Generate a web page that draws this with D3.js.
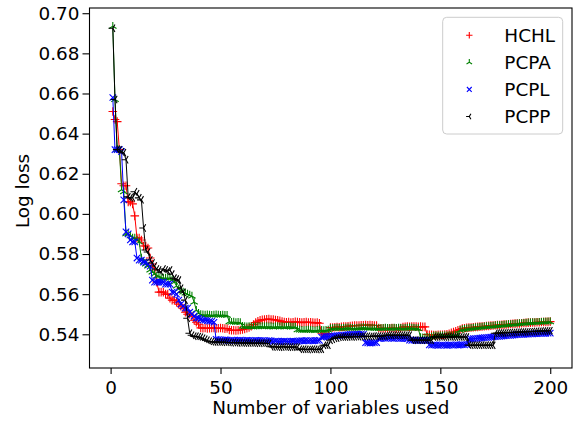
<!DOCTYPE html>
<html><head><meta charset="utf-8">
<script src="https://cdn.jsdelivr.net/npm/d3@7"></script>
<style>body{margin:0;background:#fff}svg{display:block}text{font-family:"DejaVu Sans",sans-serif}</style>
</head><body><svg id="c" width="574" height="421"></svg>
<script>
const seriesNames = ["HCHL","PCPA","PCPL","PCPP"];
const seriesColors = ["#ff0000","#008000","#0000ff","#000000"];
const seriesMarkers = ["plus","tri_up","x","tri_left"];
const xTicks = [0,50,100,150,200];
const yTicks = [0.54,0.56,0.58,0.60,0.62,0.64,0.66,0.68,0.70];
const xLabel = "Number of variables used";
const yLabel = "Log loss";

const hchl = [
.651,.647,.646,.632,.615,.614,.614,.606,.606,.605,
.599,.588,.588,.587,.584,.584,.583,.578,.575,.572,
.566,.561,.561,.561,.560,.560,.558,.557,.557,.556,
.555,.554,.553,.551,.550,.550,.549,.547,.546,.545,
.5432,.5430,.5431,.5429,.5430,.5432,.5431,.5429,.5430,.5431,
.5430,.5428,.5429,.5421,.5420,.5420,.5419,.5420,.5421,.5424,
.5427,.5430,.5434,.5440,.5448,.5458,.5465,.5470,.5472,.5474,
.5475,.5476,.5474,.5473,.5471,.5470,.5467,.5463,.5461,.5460,
.5461,.5459,.5460,.5462,.5461,.5460,.5458,.5460,.5461,.5459,
.5460,.5458,.5457,.5458,.5455,.5405,.5400,.5401,.5404,.5433,
.5434,.5435,.5436,.5435,.5437,.5438,.5439,.5440,.5441,.5442,
.5443,.5444,.5444,.5445,.5445,.5446,.5445,.5446,.5445,.5444,
.5444,.5431,.5430,.5429,.5430,.5429,.5430,.5431,.5430,.5429,
.5430,.5431,.5436,.5437,.5438,.5437,.5438,.5439,.5438,.5437,
.5438,.5437,.5437,.5399,.5398,.5397,.5396,.5396,.5397,.5398,
.5398,.5399,.5400,.5403,.5407,.5411,.5415,.5420,.5424,.5428,
.5430,.5432,.5433,.5434,.5435,.5436,.5437,.5438,.5439,.5440,
.5441,.5442,.5443,.5444,.5445,.5446,.5446,.5447,.5448,.5449,
.5450,.5451,.5452,.5453,.5454,.5454,.5455,.5456,.5457,.5458,
.5458,.5459,.5459,.5460,.5460,.5461,.5461,.5462,.5462,.5463];

const pcpa = [
.6935,.657,.632,.632,.612,.611,.590,.590,.589,.588,
.588,.587,.586,.578,.576,.575,.574,.572,.571,.570,
.569,.569,.568,.568,.568,.568,.568,.567,.566,.564,
.5625,.5615,.561,.5605,.560,.5595,.559,.556,.552,.5505,
.5498,.5497,.5496,.5497,.5496,.5495,.5496,.5497,.5496,.5495,
.5496,.5495,.5494,.5462,.5460,.5461,.5459,.5460,.5458,.5440,
.5438,.5437,.5438,.5437,.5436,.5437,.5438,.5439,.5438,.5437,
.5438,.5437,.5438,.5436,.5437,.5438,.5437,.5438,.5436,.5437,
.5438,.5437,.5436,.5437,.5422,.5421,.5420,.5419,.5420,.5421,
.5420,.5419,.5418,.5420,.5421,.5420,.5419,.5420,.5421,.5428,
.5429,.5430,.5431,.5430,.5429,.5430,.5431,.5432,.5431,.5430,
.5429,.5430,.5431,.5432,.5433,.5432,.5431,.5430,.5431,.5430,
.5429,.5428,.5429,.5430,.5431,.5430,.5429,.5430,.5431,.5430,
.5431,.5430,.5429,.5430,.5431,.5432,.5431,.5430,.5429,.5428,
.5384,.5383,.5384,.5385,.5384,.5386,.5391,.5392,.5391,.5392,
.5393,.5392,.5393,.5394,.5393,.5394,.5395,.5396,.5420,.5423,
.5425,.5427,.5428,.5430,.5431,.5432,.5433,.5435,.5436,.5437,
.5438,.5439,.5440,.5441,.5442,.5443,.5444,.5445,.5446,.5447,
.5448,.5449,.5450,.5451,.5452,.5453,.5454,.5455,.5456,.5457,
.5457,.5458,.5459,.5459,.5460,.5460,.5461,.5461,.5462,.5462];

const pcpl = [
.658,.632,.632,.632,.631,.607,.591,.590,.587,.586,
.586,.578,.577,.577,.576,.576,.575,.574,.567,.566,
.566,.566,.566,.566,.565,.565,.565,.561,.561,.560,
.557,.555,.554,.553,.553,.551,.550,.549,.548,.548,
.5475,.5470,.5470,.5468,.5465,.5465,.5460,.5375,.5373,.5372,
.5371,.5372,.5371,.5370,.5371,.5370,.5369,.5370,.5371,.5370,
.5369,.5370,.5369,.5368,.5369,.5370,.5369,.5368,.5369,.5368,
.5367,.5368,.5367,.5365,.5366,.5365,.5364,.5365,.5366,.5365,
.5364,.5365,.5366,.5365,.5366,.5367,.5368,.5367,.5368,.5367,
.5368,.5367,.5368,.5369,.5370,.5386,.5387,.5388,.5389,.5390,
.5391,.5392,.5393,.5394,.5395,.5396,.5397,.5398,.5399,.5400,
.5400,.5401,.5400,.5401,.5400,.5358,.5357,.5356,.5357,.5358,
.5359,.5379,.5380,.5381,.5380,.5381,.5382,.5381,.5380,.5381,
.5380,.5379,.5380,.5379,.5378,.5371,.5370,.5371,.5370,.5369,
.5370,.5369,.5370,.5369,.5347,.5346,.5347,.5346,.5345,.5346,
.5347,.5346,.5345,.5346,.5347,.5346,.5347,.5346,.5347,.5348,
.5347,.5348,.5376,.5377,.5378,.5379,.5380,.5381,.5382,.5383,
.5384,.5385,.5386,.5387,.5388,.5389,.5390,.5391,.5392,.5393,
.5394,.5395,.5396,.5397,.5398,.5399,.5400,.5400,.5401,.5401,
.5402,.5402,.5403,.5403,.5404,.5404,.5405,.5405,.5406,.5406];

const pcpp = [
.6925,.657,.632,.632,.631,.6305,.627,.6085,.608,.608,
.611,.610,.608,.607,.593,.582,.581,.577,.5755,.574,
.5725,.572,.571,.5725,.572,.5715,.572,.570,.568,.5675,
.567,.563,.561,.557,.548,.5405,.5395,.539,.539,.5388,
.5385,.538,.5375,.537,.5365,.5363,.5362,.5361,.5362,.5361,
.5360,.5361,.5360,.5359,.5358,.5359,.5358,.5357,.5358,.5357,
.5356,.5357,.5356,.5357,.5356,.5355,.5356,.5355,.5356,.5355,
.5355,.5354,.5338,.5337,.5338,.5337,.5336,.5337,.5338,.5337,
.5336,.5337,.5336,.5337,.5336,.5326,.5325,.5326,.5325,.5324,
.5325,.5326,.5325,.5324,.5325,.5326,.5345,.5346,.5345,.5370,
.5375,.5380,.5381,.5385,.5386,.5387,.5386,.5387,.5388,.5387,
.5388,.5389,.5388,.5389,.5390,.5389,.5390,.5389,.5390,.5391,
.5390,.5391,.5390,.5391,.5392,.5395,.5396,.5395,.5396,.5395,
.5396,.5395,.5396,.5395,.5396,.5395,.5371,.5370,.5371,.5370,
.5371,.5370,.5371,.5370,.5371,.5370,.5387,.5386,.5387,.5388,
.5387,.5386,.5387,.5388,.5387,.5386,.5387,.5388,.5387,.5386,
.5387,.5386,.5346,.5345,.5346,.5345,.5346,.5345,.5346,.5345,
.5346,.5345,.5346,.5345,.5405,.5406,.5406,.5407,.5407,.5408,
.5408,.5409,.5409,.5410,.5410,.5411,.5411,.5412,.5412,.5413,
.5413,.5414,.5414,.5415,.5415,.5416,.5416,.5417,.5417,.5418];

const seriesValues = [hchl, pcpa, pcpl, pcpp];

const svg = d3.select("#c");
const L = 89.5, R = 572, T = 8, B = 368;
const x = d3.scaleLinear().domain([-9.6, 209.9]).range([L, R]);
const y = d3.scaleLinear().domain([0.5232, 0.7026]).range([B, T]);
const FS = "18.4px";

function markerPath(type, r) {
  const p = d3.path();
  if (type === "plus") { p.moveTo(-r,0); p.lineTo(r,0); p.moveTo(0,-r); p.lineTo(0,r); }
  else if (type === "x") { const a=r*0.75; p.moveTo(-a,-a); p.lineTo(a,a); p.moveTo(-a,a); p.lineTo(a,-a); }
  else {
    let angs;
    if (type === "tri_up") angs = [-90, 30, 150];
    else if (type === "tri_left") angs = [180, -60, 60];
    else if (type === "tri_right") angs = [0, 120, 240];
    else angs = [90, -30, 210];
    angs.forEach(a => { const t=a*Math.PI/180; p.moveTo(0,0); p.lineTo(r*Math.cos(t), r*Math.sin(t)); });
  }
  return p.toString();
}

const plot = svg.append("g");
const line = d3.line().x((d,i)=>x(i+1)).y(d=>y(d));
seriesValues.forEach((vals, si) => {
  const g = plot.append("g");
  g.append("path").attr("d", line(vals)).attr("fill","none")
    .attr("stroke", seriesColors[si]).attr("stroke-width", 1);
  const mp = markerPath(seriesMarkers[si], 4.3);
  g.selectAll("path.m").data(vals).join("path").attr("class","m")
    .attr("d", mp).attr("transform", (d,i)=>`translate(${x(i+1)},${y(d)})`)
    .attr("fill","none").attr("stroke", seriesColors[si]).attr("stroke-width", 1.1);
});

// spines
svg.append("rect").attr("x",L).attr("y",T).attr("width",R-L).attr("height",B-T)
  .attr("fill","none").attr("stroke","#000").attr("stroke-width",1.1);

const xa = svg.append("g").attr("transform",`translate(0,${B})`)
  .call(d3.axisBottom(x).tickValues(xTicks).tickSize(6).tickPadding(7).tickFormat(d3.format("d")));
xa.select(".domain").remove();
xa.selectAll("text").attr("font-size",FS).attr("font-family","DejaVu Sans").attr("fill","#000");
xa.selectAll("line").attr("stroke","#000").attr("stroke-width",1.1);

const ya = svg.append("g").attr("transform",`translate(${L},0)`)
  .call(d3.axisLeft(y).tickValues(yTicks).tickSize(7).tickPadding(3).tickFormat(d3.format(".2f")));
ya.select(".domain").remove();
ya.selectAll("text").attr("font-size",FS).attr("font-family","DejaVu Sans").attr("fill","#000");
ya.selectAll("line").attr("stroke","#000").attr("stroke-width",1.1);

svg.append("text").attr("x",(L+R)/2).attr("y",414).attr("text-anchor","middle")
  .attr("font-size",FS).text(xLabel);
svg.append("text").attr("transform","translate(29,191) rotate(-90)").attr("text-anchor","middle")
  .attr("font-size",FS).text(yLabel);

const lg = svg.append("g");
lg.append("rect").attr("x",442.7).attr("y",17.3).attr("width",120).attr("height",116.7).attr("rx",4)
  .attr("fill","#fff").attr("fill-opacity",0.8).attr("stroke","#cccccc").attr("stroke-width",1);
seriesNames.forEach((n, i) => {
  const cy = 35.2 + i*27.1;
  lg.append("path").attr("d", markerPath(seriesMarkers[i], 3.2))
    .attr("transform",`translate(469.3,${cy})`).attr("fill","none")
    .attr("stroke",seriesColors[i]).attr("stroke-width",1.1);
  lg.append("text").attr("x",504.3).attr("y",cy).attr("dy","0.36em").attr("font-size",FS).text(n);
});
</script></body></html>
